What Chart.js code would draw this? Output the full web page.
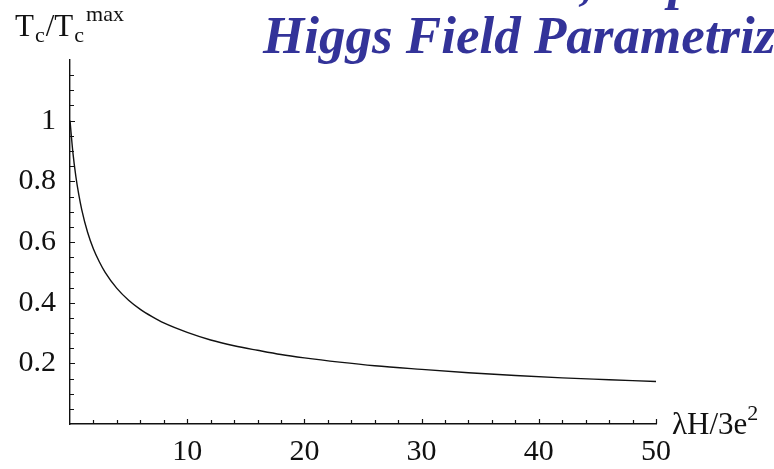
<!DOCTYPE html>
<html>
<head>
<meta charset="utf-8">
<script src="https://cdn.jsdelivr.net/npm/chart.js@4.4.1/dist/chart.umd.min.js"></script>
<style>
  html, body { margin: 0; padding: 0; background: #fff; }
  canvas { display: block; }
</style>
</head>
<body>
<canvas id="tcChart" width="774" height="469"></canvas>
<script>
// values
const xValues = [0, 0.25, 0.5, 0.75, 1, 1.5, 2, 2.5, 3, 4, 5, 6, 7, 8, 10, 12, 14, 16, 18, 20, 23, 26, 30, 34, 38, 42, 46, 50];
const ratioValues = [1.0, 0.894, 0.816, 0.756, 0.707, 0.632, 0.577, 0.535, 0.5, 0.447, 0.408, 0.378, 0.354, 0.333, 0.302, 0.277, 0.258, 0.243, 0.229, 0.218, 0.204, 0.192, 0.18, 0.169, 0.16, 0.152, 0.146, 0.14];

const xTickLabels = [10, 20, 30, 40, 50];
const yTickLabels = [0.2, 0.4, 0.6, 0.8, 1];
const xMinorTicks = [2, 4, 6, 8, 10, 12, 14, 16, 18, 20, 22, 24, 26, 28, 30, 32, 34, 36, 38, 40, 42, 44, 46, 48, 50];
const yMinorTicks = [0.05, 0.1, 0.15, 0.2, 0.25, 0.3, 0.35, 0.4, 0.45, 0.5, 0.55, 0.6, 0.65, 0.7, 0.75, 0.8, 0.85, 0.9, 0.95, 1, 1.05, 1.1, 1.15];

const serif = "'Liberation Serif', 'DejaVu Serif', serif";
const ink = "#111";

// inward tick marks plus the axis titles and heading
const decorations = {
  id: "decorations",
  afterDraw(chart) {
    const { ctx, chartArea, scales } = chart;
    const xs = scales.x, ys = scales.y;
    ctx.save();
    ctx.strokeStyle = ink;
    ctx.lineWidth = 1.2;
    ctx.beginPath();
    xMinorTicks.forEach(v => {
      const px = Math.round(xs.getPixelForValue(v)) + 0.5;
      const len = v % 10 === 0 ? 5 : 4;
      ctx.moveTo(px, chartArea.bottom);
      ctx.lineTo(px, chartArea.bottom - len);
    });
    yMinorTicks.forEach(v => {
      const py = Math.round(ys.getPixelForValue(v)) + 0.5;
      const len = Math.abs(v * 5 - Math.round(v * 5)) < 1e-6 ? 5 : 4;
      ctx.moveTo(chartArea.left, py);
      ctx.lineTo(chartArea.left + len, py);
    });
    ctx.stroke();

    // y axis title: Tc/Tc^max
    ctx.fillStyle = ink;
    ctx.textBaseline = "alphabetic";
    ctx.textAlign = "left";
    let x = 15;
    const base = 36;
    const big = "31px " + serif, small = "22px " + serif;
    const put = (txt, font, dy, gap) => {
      ctx.font = font;
      ctx.fillText(txt, x, base + dy);
      x += ctx.measureText(txt).width + gap;
    };
    put("T", big, 0, 1);
    put("c", small, 6, 1);
    put("/", big, 0, 0);
    put("T", big, 0, 1);
    put("c", small, 6, 2);
    put("max", small, -15, 0);

    // x axis title: λH/3e²
    x = 672;
    const xb = 434;
    ctx.font = big;
    ctx.fillText("\u03BBH/3e", x, xb);
    x += ctx.measureText("\u03BBH/3e").width;
    ctx.font = small;
    ctx.fillText("2", x, xb - 14);

    // heading, cut by the edges as in the slide
    ctx.fillStyle = "#333399";
    ctx.font = "bold italic 53px " + serif;
    ctx.fillText(", Dependence", 580, -1);
    ctx.fillText("Higgs Field Parametrization", 263, 53);
    ctx.restore();
  }
};

new Chart(document.getElementById("tcChart"), {
  type: "line",
  data: {
    labels: xValues,
    datasets: [{
      data: xValues.map((x, i) => ({ x, y: ratioValues[i] })),
      borderColor: ink,
      borderWidth: 1.4,
      pointRadius: 0,
      cubicInterpolationMode: "monotone",
      fill: false,
      clip: false
    }]
  },
  options: {
    responsive: false,
    animation: false,
    layout: { padding: { top: 60, right: 118, left: 0, bottom: 0 } },
    plugins: {
      legend: { display: false },
      tooltip: { enabled: false }
    },
    scales: {
      x: {
        type: "linear",
        min: 0,
        max: 50,
        grid: { display: false, drawTicks: false },
        border: { display: true, color: ink, width: 1.4 },
        afterBuildTicks: s => { s.ticks = xTickLabels.map(v => ({ value: v })); },
        afterFit: s => { s.height = 45; },
        ticks: {
          padding: 10,
          maxRotation: 0,
          color: ink,
          font: { family: serif, size: 30 },
          callback: v => String(v)
        }
      },
      y: {
        type: "linear",
        min: 0,
        max: 1.2,
        grid: { display: false, drawTicks: false },
        border: { display: true, color: ink, width: 1.4 },
        afterBuildTicks: s => { s.ticks = yTickLabels.map(v => ({ value: v })); },
        afterFit: s => { s.width = 70; },
        ticks: {
          padding: 14,
          color: ink,
          font: { family: serif, size: 30 },
          callback: v => String(v)
        }
      }
    }
  },
  plugins: [decorations]
});
</script>
</body>
</html>
